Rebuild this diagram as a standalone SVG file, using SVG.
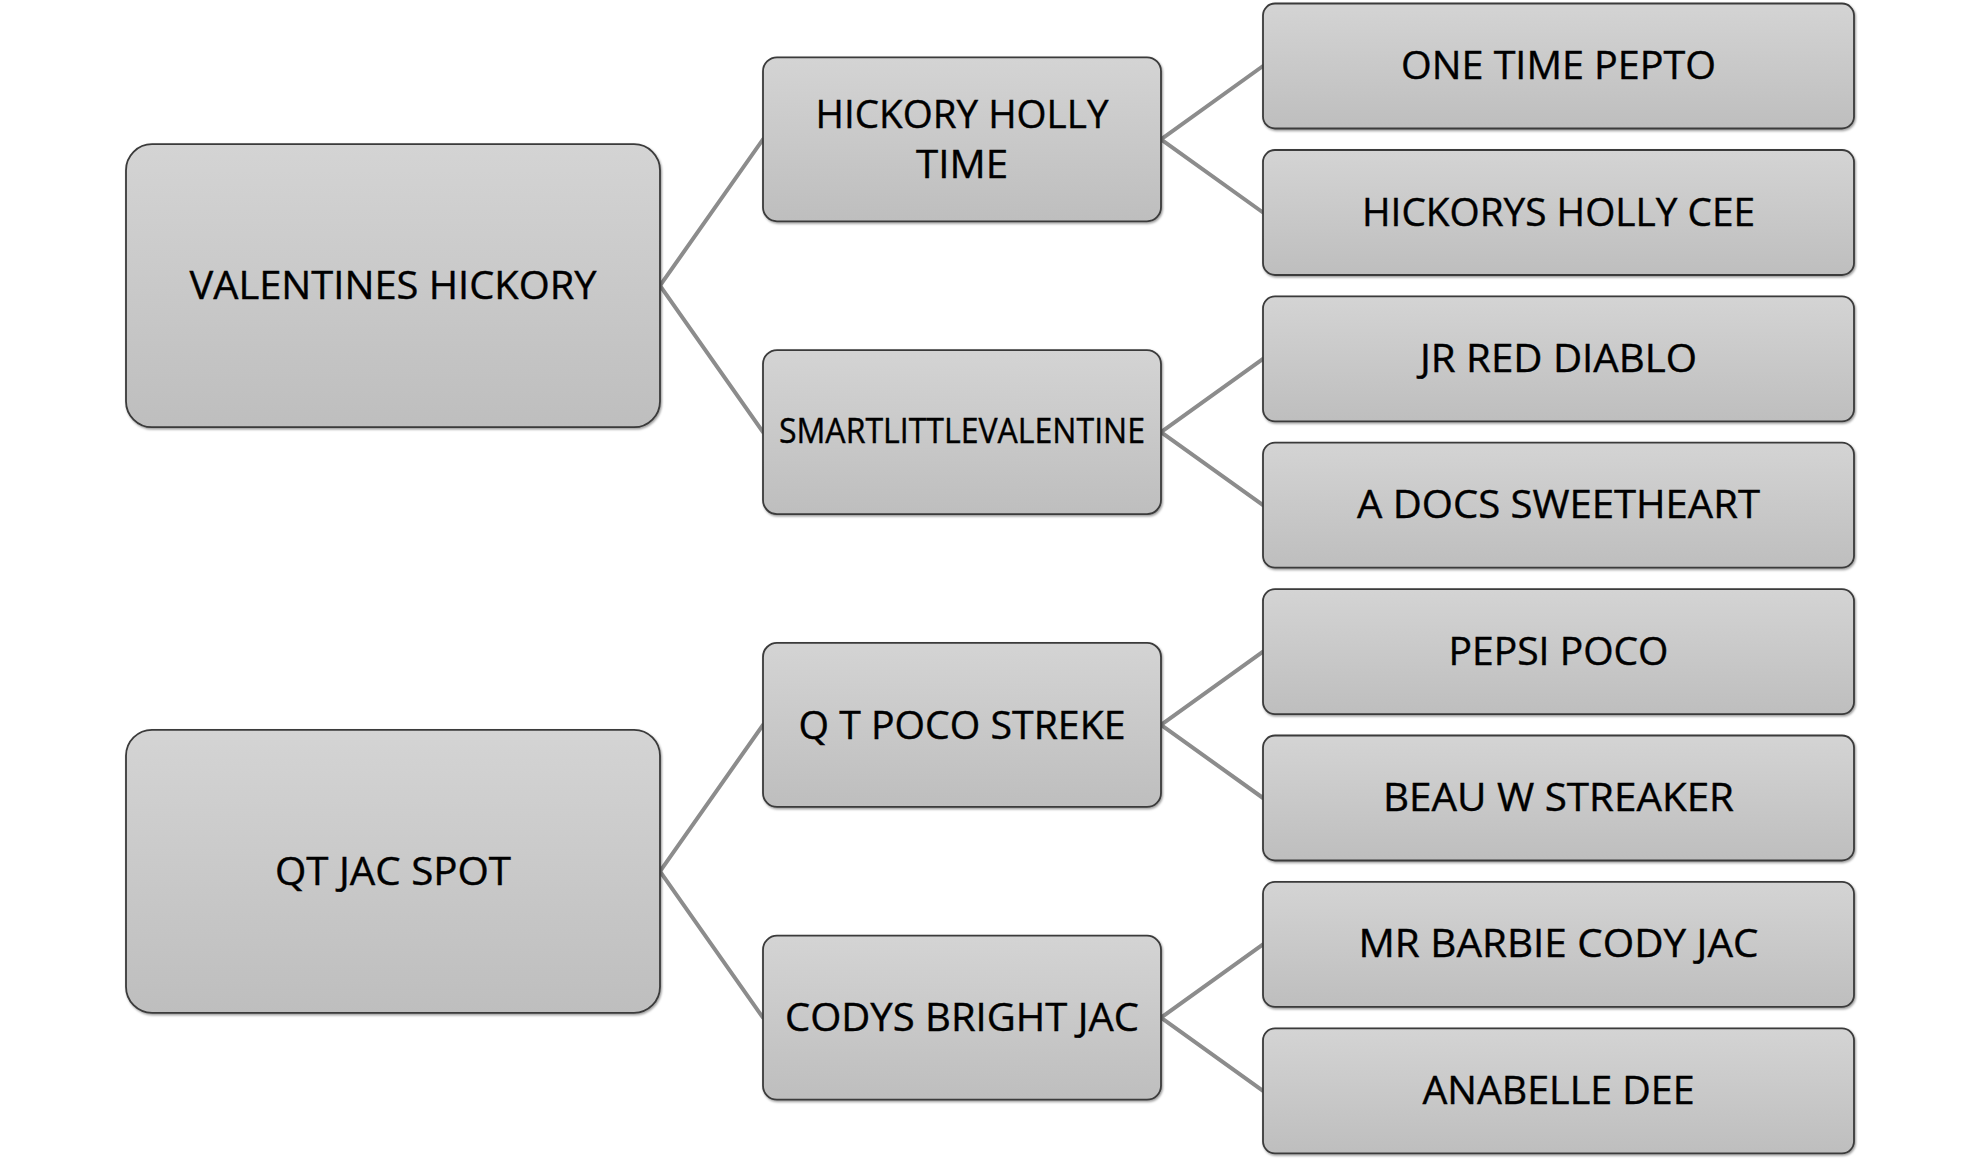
<svg xmlns="http://www.w3.org/2000/svg" width="1980" height="1159" viewBox="0 0 1980 1159">
<defs>
<linearGradient id="g" x1="0" y1="0" x2="0" y2="1">
<stop offset="0" stop-color="#d4d4d4"/>
<stop offset="1" stop-color="#bebebe"/>
</linearGradient>
<filter id="sh" x="-5%" y="-5%" width="110%" height="115%">
<feDropShadow dx="1" dy="1.5" stdDeviation="1" flood-color="#000" flood-opacity="0.4"/>
</filter>
<style>
.n rect{fill:url(#g);stroke:#3a3a3a;stroke-width:1.8;filter:url(#sh)}
.n text{font-family:"Open Sans","Noto Sans",sans-serif;font-size:39px;fill:#000;text-anchor:middle;stroke:#000;stroke-width:0.4}
.n text.s{font-size:34px}
.c line{stroke:#8c8c8c;stroke-width:4;stroke-linecap:round}
</style>
</defs>
<rect width="1980" height="1159" fill="#fff"/>
<g id="connectors" class="c">
<line x1="660" y1="285.7" x2="763" y2="139.3"/>
<line x1="660" y1="285.7" x2="763" y2="432.1"/>
<line x1="660" y1="871.3" x2="763" y2="724.9"/>
<line x1="660" y1="871.3" x2="763" y2="1017.7"/>
<line x1="1161" y1="139.3" x2="1263" y2="66"/>
<line x1="1161" y1="139.3" x2="1263" y2="212.5"/>
<line x1="1161" y1="432.1" x2="1263" y2="358.8"/>
<line x1="1161" y1="432.1" x2="1263" y2="505.2"/>
<line x1="1161" y1="724.9" x2="1263" y2="651.6"/>
<line x1="1161" y1="724.9" x2="1263" y2="798"/>
<line x1="1161" y1="1017.7" x2="1263" y2="944.4"/>
<line x1="1161" y1="1017.7" x2="1263" y2="1090.8"/>
</g>
<g id="valentines-hickory" class="n">
<rect x="126" y="144.2" width="534" height="283" rx="26"/>
<text x="393" y="299.3" textLength="407" lengthAdjust="spacingAndGlyphs">VALENTINES HICKORY</text>
</g>
<g id="qt-jac-spot" class="n">
<rect x="126" y="729.8" width="534" height="283" rx="26"/>
<text x="393" y="884.9" textLength="236" lengthAdjust="spacingAndGlyphs">QT JAC SPOT</text>
</g>
<g id="hickory-holly-time" class="n">
<rect x="763" y="57.3" width="398" height="164" rx="14"/>
<text x="962" y="128" textLength="293" lengthAdjust="spacingAndGlyphs">HICKORY HOLLY</text>
<text x="962" y="178" textLength="92" lengthAdjust="spacingAndGlyphs">TIME</text>
</g>
<g id="smartlittlevalentine" class="n">
<rect x="763" y="350.1" width="398" height="164" rx="14"/>
<text class="s" x="962" y="443" textLength="366" lengthAdjust="spacingAndGlyphs">SMARTLITTLEVALENTINE</text>
</g>
<g id="q-t-poco-streke" class="n">
<rect x="763" y="642.9" width="398" height="164" rx="14"/>
<text x="962" y="738.5" textLength="327" lengthAdjust="spacingAndGlyphs">Q T POCO STREKE</text>
</g>
<g id="codys-bright-jac" class="n">
<rect x="763" y="935.7" width="398" height="164" rx="14"/>
<text x="962" y="1031.3" textLength="354" lengthAdjust="spacingAndGlyphs">CODYS BRIGHT JAC</text>
</g>
<g id="one-time-pepto" class="n">
<rect x="1263" y="3.5" width="591" height="125" rx="12"/>
<text x="1558.5" y="79" textLength="315" lengthAdjust="spacingAndGlyphs">ONE TIME PEPTO</text>
</g>
<g id="hickorys-holly-cee" class="n">
<rect x="1263" y="150" width="591" height="125" rx="12"/>
<text x="1558.5" y="225.5" textLength="393" lengthAdjust="spacingAndGlyphs">HICKORYS HOLLY CEE</text>
</g>
<g id="jr-red-diablo" class="n">
<rect x="1263" y="296.3" width="591" height="125" rx="12"/>
<text x="1558.5" y="371.8" textLength="277" lengthAdjust="spacingAndGlyphs">JR RED DIABLO</text>
</g>
<g id="a-docs-sweetheart" class="n">
<rect x="1263" y="442.7" width="591" height="125" rx="12"/>
<text x="1558.5" y="518.2" textLength="403" lengthAdjust="spacingAndGlyphs">A DOCS SWEETHEART</text>
</g>
<g id="pepsi-poco" class="n">
<rect x="1263" y="589.1" width="591" height="125" rx="12"/>
<text x="1558.5" y="664.6" textLength="220" lengthAdjust="spacingAndGlyphs">PEPSI POCO</text>
</g>
<g id="beau-w-streaker" class="n">
<rect x="1263" y="735.5" width="591" height="125" rx="12"/>
<text x="1558.5" y="811" textLength="351" lengthAdjust="spacingAndGlyphs">BEAU W STREAKER</text>
</g>
<g id="mr-barbie-cody-jac" class="n">
<rect x="1263" y="881.9" width="591" height="125" rx="12"/>
<text x="1558.5" y="957.4" textLength="400" lengthAdjust="spacingAndGlyphs">MR BARBIE CODY JAC</text>
</g>
<g id="anabelle-dee" class="n">
<rect x="1263" y="1028.3" width="591" height="125" rx="12"/>
<text x="1558.5" y="1103.8" textLength="272" lengthAdjust="spacingAndGlyphs">ANABELLE DEE</text>
</g>
</svg>
